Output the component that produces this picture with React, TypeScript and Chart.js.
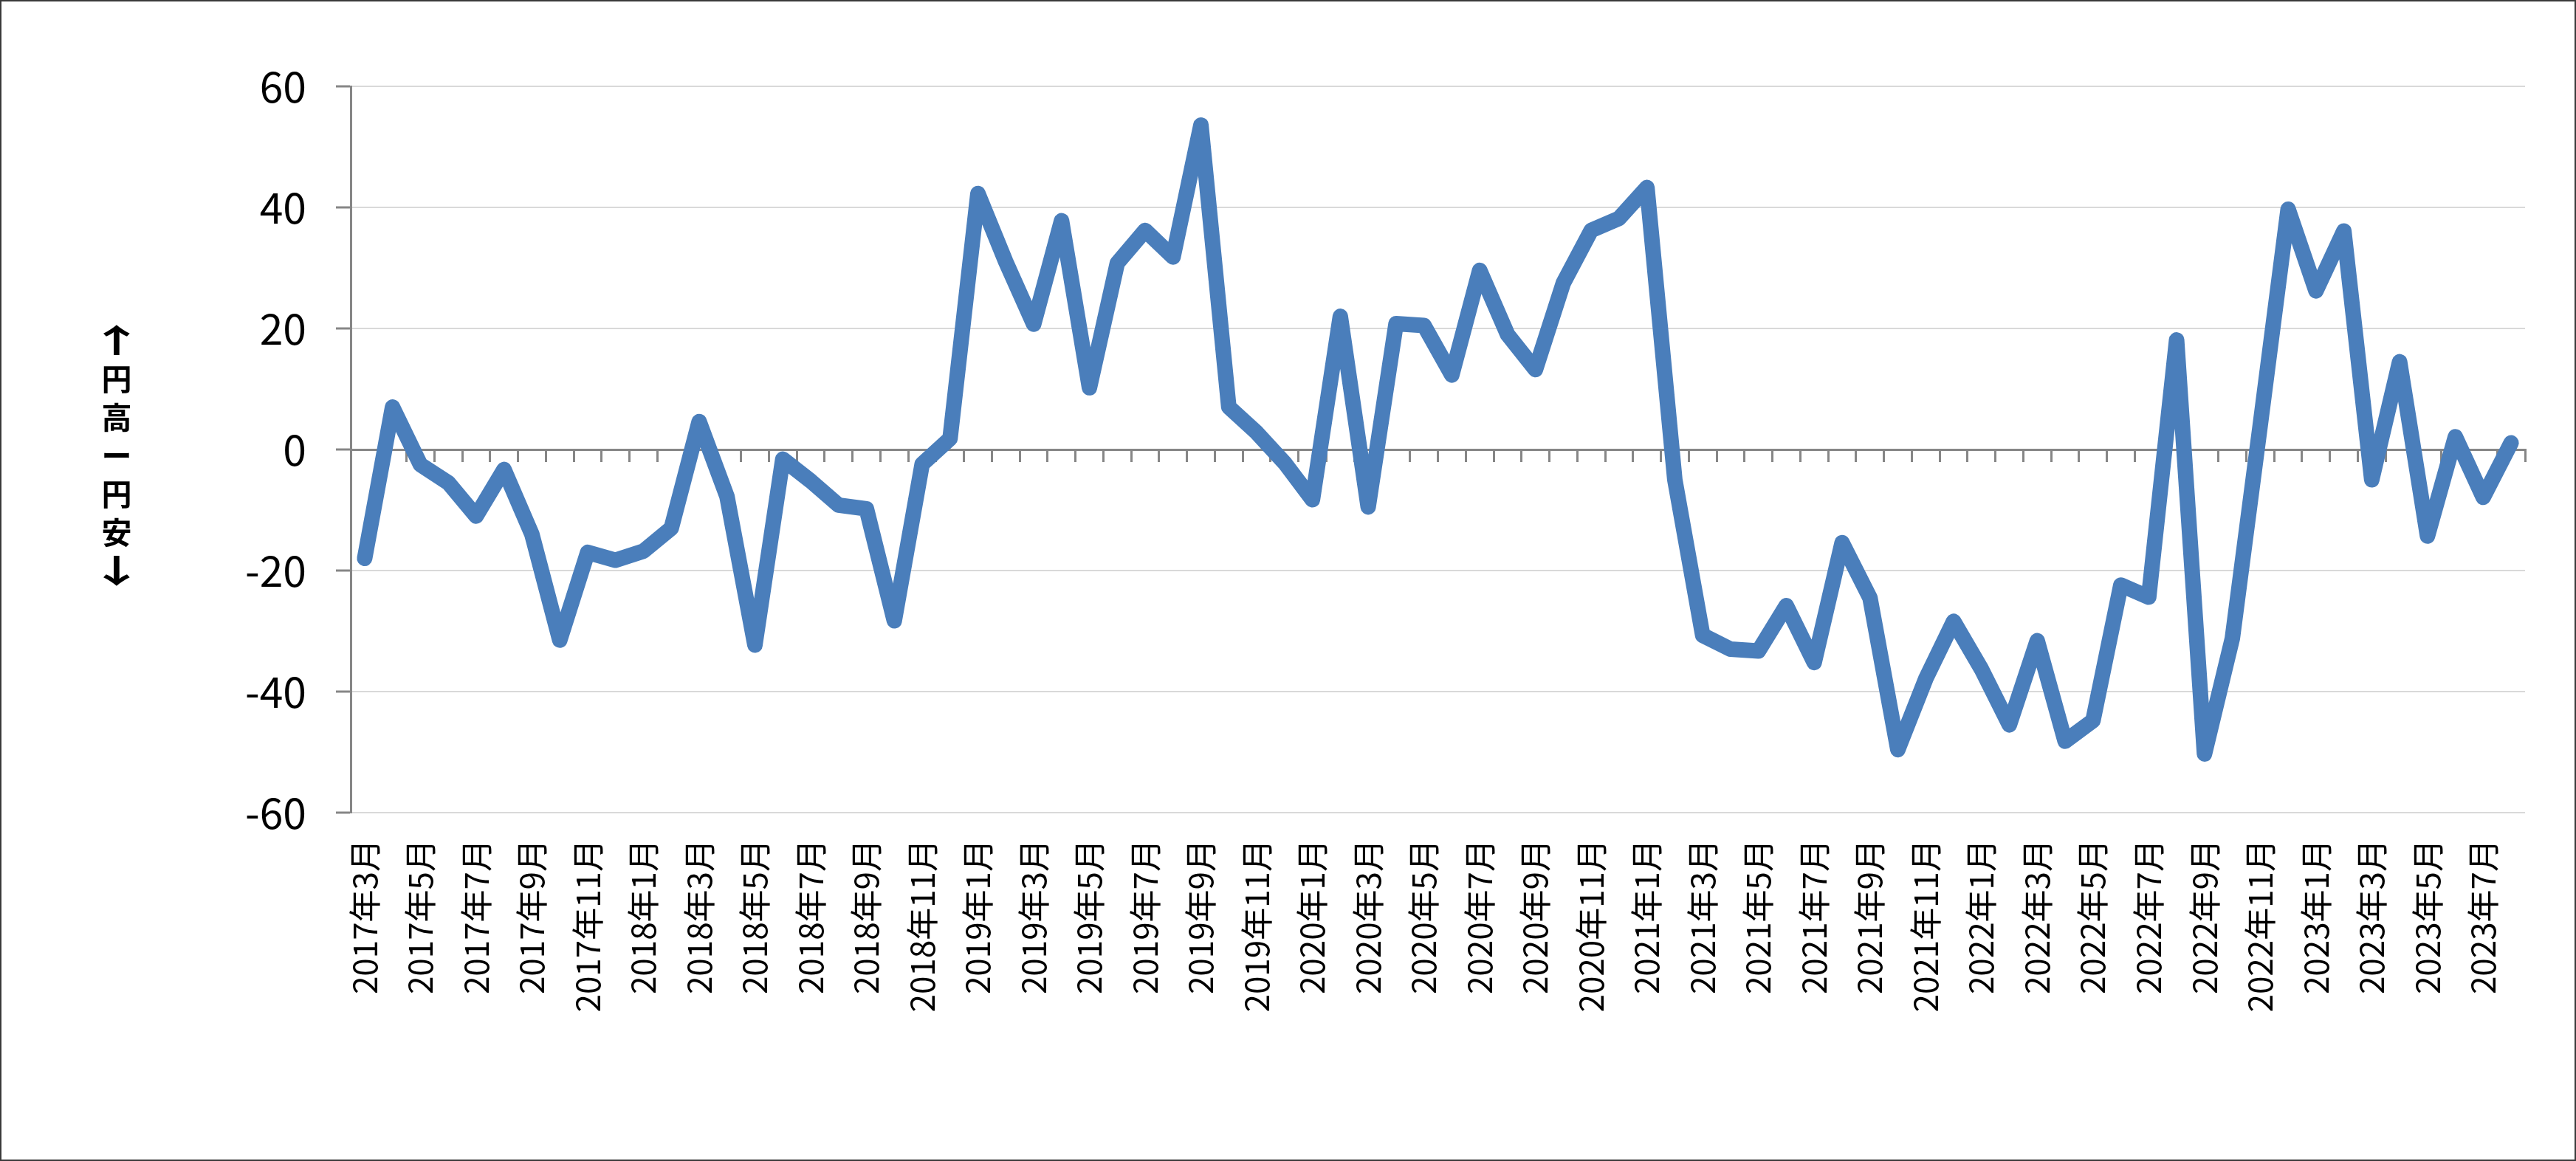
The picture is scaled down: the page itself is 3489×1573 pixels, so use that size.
import React, { useEffect, useRef } from 'react';
import { Chart, registerables } from 'chart.js';

Chart.register(...registerables);

const FONT = '"Noto Sans CJK JP", "Noto Sans", sans-serif';

// Categories (monthly)
const months: string[] = [
  '2017年3月', '2017年4月', '2017年5月', '2017年6月', '2017年7月', '2017年8月', '2017年9月', '2017年10月', '2017年11月', '2017年12月',
  '2018年1月', '2018年2月', '2018年3月', '2018年4月', '2018年5月', '2018年6月', '2018年7月', '2018年8月', '2018年9月', '2018年10月', '2018年11月', '2018年12月',
  '2019年1月', '2019年2月', '2019年3月', '2019年4月', '2019年5月', '2019年6月', '2019年7月', '2019年8月', '2019年9月', '2019年10月', '2019年11月', '2019年12月',
  '2020年1月', '2020年2月', '2020年3月', '2020年4月', '2020年5月', '2020年6月', '2020年7月', '2020年8月', '2020年9月', '2020年10月', '2020年11月', '2020年12月',
  '2021年1月', '2021年2月', '2021年3月', '2021年4月', '2021年5月', '2021年6月', '2021年7月', '2021年8月', '2021年9月', '2021年10月', '2021年11月', '2021年12月',
  '2022年1月', '2022年2月', '2022年3月', '2022年4月', '2022年5月', '2022年6月', '2022年7月', '2022年8月', '2022年9月', '2022年10月', '2022年11月', '2022年12月',
  '2023年1月', '2023年2月', '2023年3月', '2023年4月', '2023年5月', '2023年6月', '2023年7月', '2023年8月',
];

// Series values
const values: number[] = [
  -18, 7, -2.5, -5.5, -11, -3.3, -14, -31.5, -17, -18.3,
  -16.8, -13, 4.6, -7.8, -32.3, -1.6, -5.2, -9.2, -9.8, -28.3, -2.4, 1.8,
  42.3, 31, 20.7, 37.8, 10.2, 30.8, 36.2, 31.8, 53.6, 7, 2.8, -2.2,
  -8.3, 22, -9.5, 20.8, 20.5, 12.3, 29.6, 19, 13.2, 27.5, 36.2, 38.2,
  43.3, -5, -30.7, -33, -33.3, -25.8, -35.2, -15.4, -24.5, -49.6, -37.9, -28.4,
  -36.3, -45.5, -31.6, -48.2, -44.8, -22.4, -24.4, 18.1, -50.3, -31.2, 4, 39.7,
  26.2, 36.1, -5, 14.5, -14.3, 2.1, -7.9, 1.1,
];

// Y axis range / tick step
const yMin = -60;
const yMax = 60;
const yStep = 20;

// Vertical axis title, stacked characters
const yTitleChars: string[] = ['↑', '円', '高', 'ー', '円', '安', '↓'];
const arrowChars: string[] = ['↑', '↓'];

const W = 3489;
const H = 1573;

const framePlugin = {
  id: 'frameAndTitle',
  afterDraw(chart: any) {
    const ctx = chart.ctx as CanvasRenderingContext2D;
    ctx.save();
    ctx.strokeStyle = '#3a3a3a';
    ctx.lineWidth = 2;
    ctx.strokeRect(1, 1, chart.width - 2, chart.height - 2);
    ctx.fillStyle = '#000000';
    ctx.textAlign = 'center';
    ctx.textBaseline = 'middle';
    const { top, bottom } = chart.chartArea;
    const cy = (top + bottom) / 2 + 8;
    const pitch = 52;
    const n = yTitleChars.length;
    yTitleChars.forEach((ch, i) => {
      const y = cy + (i - (n - 1) / 2) * pitch;
      if (arrowChars.includes(ch)) {
        ctx.save();
        ctx.translate(158, y);
        ctx.scale(1.7, 1);
        ctx.font = `bold 44px ${FONT}`;
        ctx.fillText(ch, 0, 0);
        ctx.restore();
      } else {
        ctx.font = `bold 41px ${FONT}`;
        ctx.fillText(ch, 158, y);
      }
    });
    ctx.restore();
  },
};

export default function App() {
  const ref = useRef<HTMLCanvasElement | null>(null);

  useEffect(() => {
    document.body.style.margin = '0';
    document.body.style.overflow = 'hidden';
    const canvas = ref.current;
    if (!canvas) return;
    const chart = new Chart(canvas, {
      type: 'line',
      data: {
        labels: months,
        datasets: [
          {
            data: values,
            borderColor: '#4a7ebb',
            backgroundColor: '#4a7ebb',
            borderWidth: 21,
            borderCapStyle: 'round',
            borderJoinStyle: 'round',
            pointRadius: 0,
            pointHoverRadius: 0,
            tension: 0,
            fill: false,
            xAxisID: 'x',
            yAxisID: 'y',
          },
        ],
      },
      options: {
        responsive: false,
        animation: false,
        devicePixelRatio: 1,
        events: [],
        layout: { padding: { top: 117, right: 69, bottom: 0, left: 0 } },
        plugins: {
          legend: { display: false },
          tooltip: { enabled: false },
          title: { display: false },
        },
        scales: {
          x: {
            type: 'category',
            position: 'bottom',
            offset: true,
            grid: { display: false, drawTicks: false, drawOnChartArea: false },
            border: { display: false },
            ticks: {
              autoSkip: false,
              minRotation: 90,
              maxRotation: 90,
              padding: 36,
              color: '#000000',
              font: { family: FONT, size: 44 },
              callback: (_v: any, index: number) => (index % 2 === 0 ? months[index] : ''),
            },
            afterFit: (scale: any) => {
              scale.height = H - 1101;
              scale.paddingLeft = 0;
              scale.paddingRight = 0;
            },
          },
          x2: {
            type: 'category',
            position: { y: 0 },
            offset: true,
            grid: {
              offset: true,
              drawOnChartArea: false,
              drawTicks: true,
              tickLength: 15,
              tickWidth: 3,
              tickColor: '#868686',
              color: '#868686',
              lineWidth: 3,
            },
            border: { display: true, color: '#868686', width: 3 },
            ticks: { display: false },
            afterFit: (scale: any) => {
              scale.paddingLeft = 0;
              scale.paddingRight = 0;
            },
          },
          y: {
            type: 'linear',
            position: 'left',
            min: yMin,
            max: yMax,
            ticks: {
              stepSize: yStep,
              padding: 40,
              color: '#000000',
              font: { family: FONT, size: 57 },
            },
            grid: {
              color: '#d9d9d9',
              lineWidth: 2,
              drawTicks: true,
              tickLength: 20,
              tickColor: '#868686',
              tickWidth: 3,
            },
            border: { display: true, color: '#868686', width: 3 },
            afterFit: (scale: any) => {
              scale.width = 475;
            },
          },
        },
      },
      plugins: [framePlugin],
    } as any);
    return () => chart.destroy();
  }, []);

  return (
    <div style={{ width: W, height: H, background: '#ffffff' }}>
      <canvas ref={ref} width={W} height={H} style={{ display: 'block', width: W, height: H }} />
    </div>
  );
}
